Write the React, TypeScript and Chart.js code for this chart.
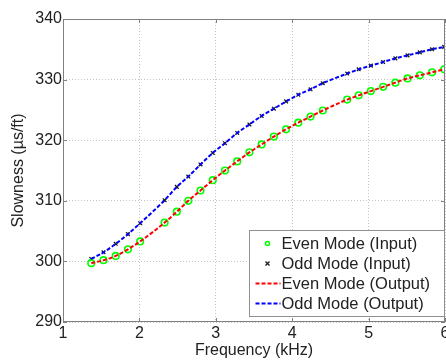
import React, { useEffect, useRef } from 'react';
import { Chart, registerables } from 'chart.js';

Chart.register(...registerables);

// Frequency (kHz) of the sampled points
const frequencies = [1.37, 1.53, 1.69, 1.85, 2.01, 2.33, 2.49, 2.64, 2.8, 2.96, 3.12, 3.28, 3.44, 3.6, 3.76, 3.92, 4.08, 4.24, 4.4, 4.72, 4.87, 5.03, 5.19, 5.35, 5.51, 5.67, 5.83, 5.99];
// Slowness (µs/ft)
const evenMode = [299.7, 300.2, 300.9, 302.0, 303.3, 306.4, 308.2, 310.0, 311.7, 313.4, 315.0, 316.5, 318.0, 319.3, 320.6, 321.8, 322.9, 323.9, 324.9, 326.7, 327.4, 328.1, 328.8, 329.5, 330.2, 330.7, 331.2, 331.7];
const oddMode = [300.4, 301.5, 302.9, 304.5, 306.3, 310.1, 312.3, 314.0, 316.0, 317.9, 319.5, 321.2, 322.6, 324.0, 325.2, 326.4, 327.5, 328.4, 329.4, 331.0, 331.7, 332.3, 332.9, 333.5, 334.0, 334.5, 335.0, 335.4];

const xTicks = [1, 2, 3, 4, 5, 6];
const yTicks = [290, 300, 310, 320, 330, 340];

const legendLabels = ['Even Mode (Input)', 'Odd Mode (Input)', 'Even Mode (Output)', 'Odd Mode (Output)'];

const FONT = "'Liberation Sans', Arial, Helvetica, sans-serif";
const TEXT = '#222222';
const FRAME = '#808080';

const toXY = (xs: number[], ys: number[]) => xs.map((x, i) => ({ x, y: ys[i] }));

const framePlugin = {
  id: 'matlabFrame',
  afterDraw(chart: any) {
    const { ctx, chartArea, scales } = chart;
    const { left, right, top, bottom } = chartArea;
    ctx.save();
    ctx.strokeStyle = FRAME;
    ctx.lineWidth = 1;
    ctx.setLineDash([]);
    ctx.strokeRect(left + 0.5, top + 0.5, right - left - 1, bottom - top - 1);
    // inward ticks
    const tl = 4;
    ctx.beginPath();
    xTicks.forEach((v) => {
      const px = Math.round(scales.x.getPixelForValue(v)) + 0.5;
      ctx.moveTo(px, bottom);
      ctx.lineTo(px, bottom - tl);
      ctx.moveTo(px, top);
      ctx.lineTo(px, top + tl);
    });
    yTicks.forEach((v) => {
      const py = Math.round(scales.y.getPixelForValue(v)) + 0.5;
      ctx.moveTo(left, py);
      ctx.lineTo(left + tl, py);
      ctx.moveTo(right, py);
      ctx.lineTo(right - tl, py);
    });
    ctx.stroke();

    // legend
    const bw = 195;
    const bh = 86;
    const bx = Math.round(right - bw - 1) + 0.5;
    const by = Math.round(bottom - bh - 6) + 0.5;
    ctx.fillStyle = '#ffffff';
    ctx.fillRect(bx, by, bw, bh);
    ctx.strokeStyle = '#909090';
    ctx.strokeRect(bx, by, bw, bh);
    ctx.font = `16.5px ${FONT}`;
    ctx.textBaseline = 'middle';
    ctx.textAlign = 'left';
    const ds = chart.data.datasets;
    legendLabels.forEach((label, i) => {
      const cy = by + 13 + i * 20;
      const d = ds[i];
      if (i === 0) {
        ctx.strokeStyle = d.borderColor;
        ctx.lineWidth = 1.5;
        ctx.beginPath();
        ctx.arc(bx + 18, cy, 2, 0, Math.PI * 2);
        ctx.stroke();
      } else if (i === 1) {
        ctx.strokeStyle = d.borderColor;
        ctx.lineWidth = 1.3;
        ctx.beginPath();
        ctx.moveTo(bx + 16, cy - 2);
        ctx.lineTo(bx + 20, cy + 2);
        ctx.moveTo(bx + 20, cy - 2);
        ctx.lineTo(bx + 16, cy + 2);
        ctx.stroke();
      } else {
        ctx.strokeStyle = d.borderColor;
        ctx.lineWidth = d.borderWidth;
        ctx.setLineDash(d.borderDash);
        ctx.beginPath();
        ctx.moveTo(bx + 6, cy);
        ctx.lineTo(bx + 31, cy);
        ctx.stroke();
        ctx.setLineDash([]);
      }
      ctx.fillStyle = TEXT;
      ctx.fillText(label, bx + 32, cy + 1);
    });
    ctx.restore();
  },
};

export default function App() {
  const canvasRef = useRef<HTMLCanvasElement | null>(null);

  useEffect(() => {
    document.body.style.margin = '0';
    const canvas = canvasRef.current;
    if (!canvas) return;
    const chart = new Chart(canvas, {
      type: 'scatter',
      data: {
        datasets: [
          {
            label: legendLabels[0],
            data: toXY(frequencies, evenMode),
            showLine: false,
            pointStyle: 'circle',
            pointRadius: 3.3,
            pointBorderWidth: 1.6,
            borderColor: '#00ff00',
            backgroundColor: 'rgba(0,0,0,0)',
            pointBackgroundColor: 'rgba(0,0,0,0)',
            order: 3,
          },
          {
            label: legendLabels[1],
            data: toXY(frequencies, oddMode),
            showLine: false,
            pointStyle: 'crossRot',
            pointRadius: 2.6,
            pointBorderWidth: 1.3,
            borderColor: '#1a1a1a',
            backgroundColor: '#1a1a1a',
            order: 4,
          },
          {
            label: legendLabels[2],
            data: toXY(frequencies, evenMode),
            showLine: true,
            pointRadius: 0,
            borderColor: '#ff0000',
            backgroundColor: '#ff0000',
            borderWidth: 2,
            borderDash: [4, 2],
            cubicInterpolationMode: 'monotone',
            order: 1,
          },
          {
            label: legendLabels[3],
            data: toXY(frequencies, oddMode),
            showLine: true,
            pointRadius: 0,
            borderColor: '#0000ff',
            backgroundColor: '#0000ff',
            borderWidth: 2,
            borderDash: [4, 2],
            cubicInterpolationMode: 'monotone',
            order: 2,
          },
        ],
      } as any,
      options: {
        animation: false,
        responsive: false,
        devicePixelRatio: 1,
        layout: { padding: { left: 0, top: 19, right: 15, bottom: 0 } },
        plugins: {
          legend: { display: false },
          tooltip: { enabled: false },
        },
        scales: {
          x: {
            type: 'linear',
            min: 1,
            max: 6,
            afterFit: (scale: any) => {
              scale.height = 38;
            },
            afterBuildTicks: (scale: any) => {
              scale.ticks = xTicks.map((v) => ({ value: v }));
            },
            ticks: {
              color: TEXT,
              font: { family: FONT, size: 16 },
              padding: 2,
              maxRotation: 0,
            },
            grid: {
              color: '#c4c4c4',
              lineWidth: 1,
              drawTicks: false,
            },
            border: { display: false, dash: [1, 2] },
            title: {
              display: true,
              text: 'Frequency (kHz)',
              color: TEXT,
              font: { family: FONT, size: 16 },
              padding: { top: 0, bottom: 0 },
            },
          },
          y: {
            type: 'linear',
            min: 290,
            max: 340,
            afterFit: (scale: any) => {
              scale.width = 63;
            },
            afterBuildTicks: (scale: any) => {
              scale.ticks = yTicks.map((v) => ({ value: v }));
            },
            ticks: {
              color: TEXT,
              font: { family: FONT, size: 16 },
              padding: 1,
            },
            grid: {
              color: '#c4c4c4',
              lineWidth: 1,
              drawTicks: false,
            },
            border: { display: false, dash: [1, 2] },
            title: {
              display: true,
              text: 'Slowness (µs/ft)',
              color: TEXT,
              font: { family: FONT, size: 16 },
              padding: { top: 9, bottom: 0 },
            },
          },
        },
      } as any,
      plugins: [framePlugin],
    });
    return () => chart.destroy();
  }, []);

  return (
    <div style={{ width: 446, height: 360, overflow: 'hidden', position: 'relative', background: '#ffffff' }}>
      <canvas ref={canvasRef} width={460} height={360} style={{ display: 'block' }} />
    </div>
  );
}
